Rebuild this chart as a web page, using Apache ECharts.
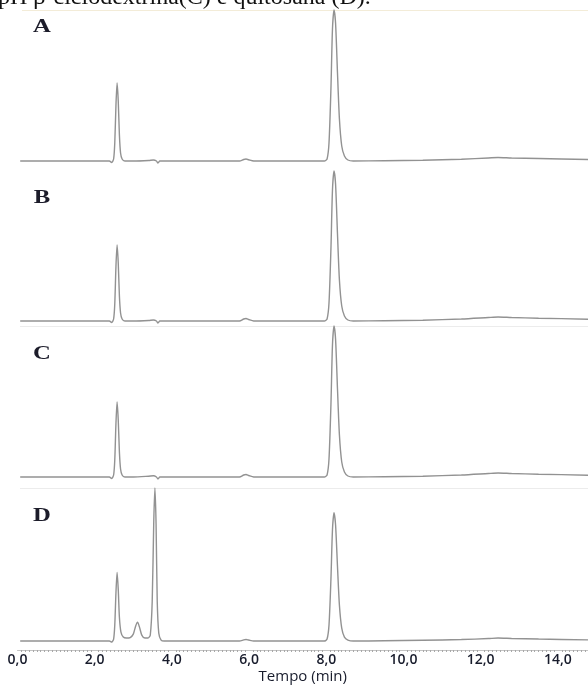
<!DOCTYPE html>
<html>
<head>
<meta charset="utf-8">
<script src="https://cdn.jsdelivr.net/npm/echarts@6/dist/echarts.min.js"></script>
<style>
  html, body { margin: 0; padding: 0; background: #fff; }
  #chart { width: 588px; height: 685px; }
</style>
</head>
<body>
<div id="chart"></div>
<script>
// Chromatogram traces: [retention time (min), detector signal]
const traceA = [[0.07,0],[1.0,0],[2.0,0],[2.38,0],[2.44,-1.5],[2.49,2],[2.52,18],[2.55,55],[2.58,78],[2.61,60],[2.64,26],[2.67,8],[2.71,2],[2.78,0],[3.0,0],[3.4,0.5],[3.52,1],[3.6,0],[3.64,-2],[3.69,0],[4.2,0],[5.0,0],[5.75,0],[5.86,1.5],[5.92,2],[5.99,1.2],[6.12,0],[7.0,0],[7.95,0],[8.02,2],[8.07,18],[8.12,72],[8.16,132],[8.2,151],[8.24,138],[8.29,88],[8.34,42],[8.4,15],[8.47,5],[8.56,1],[8.7,0],[9.5,0.3],[10.5,0.8],[11.5,1.8],[12.2,3],[12.45,3.5],[12.8,3],[13.5,2.5],[14.78,1.5]];
const traceB = [[0.07,0],[1.0,0],[2.0,0],[2.38,0],[2.44,-1.5],[2.49,2],[2.52,17],[2.55,54],[2.58,76],[2.61,58],[2.64,25],[2.67,8],[2.71,2],[2.78,0],[3.0,0],[3.4,0.5],[3.52,1],[3.6,0],[3.64,-2],[3.69,0],[4.2,0],[5.0,0],[5.75,0],[5.86,2],[5.92,2.5],[5.99,1.5],[6.12,0],[7.0,0],[7.95,0],[8.02,2],[8.07,18],[8.12,72],[8.16,131],[8.2,150],[8.24,137],[8.29,87],[8.34,41],[8.4,15],[8.47,5],[8.56,1],[8.7,0],[9.5,0.3],[10.5,0.8],[11.5,2],[12.2,3.5],[12.45,4],[12.8,3.5],[13.5,2.8],[14.78,1.8]];
const traceC = [[0.07,0],[1.0,0],[2.0,0],[2.38,0],[2.44,-1.5],[2.49,2],[2.52,17],[2.55,53],[2.58,75],[2.61,57],[2.64,25],[2.67,8],[2.71,2],[2.78,0],[3.0,0],[3.4,0.8],[3.52,1.2],[3.6,0],[3.64,-2],[3.69,0],[4.2,0],[5.0,0],[5.75,0],[5.86,2],[5.92,2.5],[5.99,1.5],[6.12,0],[7.0,0],[7.95,0],[8.02,2],[8.07,18],[8.12,72],[8.16,132],[8.2,151],[8.24,138],[8.29,88],[8.34,42],[8.4,15],[8.47,5],[8.56,1],[8.7,0],[9.5,0.3],[10.5,0.8],[11.5,2],[12.2,3.5],[12.45,4],[12.8,3.5],[13.5,2.8],[14.78,1.8]];
const traceD = [[0.07,0],[1.0,0],[2.0,0],[2.38,0],[2.44,-1],[2.49,2],[2.52,16],[2.55,48],[2.58,69],[2.61,52],[2.64,24],[2.68,9],[2.74,4],[2.82,3],[2.92,3.5],[3.0,7],[3.06,15],[3.11,19],[3.16,14],[3.22,6],[3.3,3],[3.38,3],[3.44,6],[3.49,40],[3.53,120],[3.56,154],[3.59,118],[3.62,40],[3.66,8],[3.72,1],[3.8,0],[4.2,0],[5.0,0],[5.75,0],[5.86,1.2],[5.92,1.6],[5.99,1],[6.12,0],[7.0,0],[7.95,0],[8.02,2],[8.07,16],[8.12,62],[8.16,112],[8.2,129],[8.24,117],[8.29,75],[8.34,36],[8.4,13],[8.47,4],[8.56,1],[8.7,0],[9.5,0.3],[10.5,0.8],[11.5,1.5],[12.2,2.5],[12.45,3],[12.8,2.6],[13.5,2],[14.78,1.2]];
const panelNames = ['A', 'B', 'C', 'D'];
const xTickStep = 2;
const xTitle = 'Tempo (min)';
const caption = 'pH β-ciclodextrina(C) e quitosana (D).';

const traces = [traceA, traceB, traceC, traceD];
// one strip per sample: [top, bottom, yMin, yMax] in pixels / signal units (1 unit = 1px)
const strips = [[6, 166, -5, 155], [166, 326, -5, 155], [322, 488, -11, 155], [482, 651, -9, 160]];
const labelY = [27, 198, 354, 516];

const chart = echarts.init(document.getElementById('chart'), null, { renderer: 'canvas' });

const grids = strips.map(s => ({ left: 17.5, right: 0, top: s[0], height: s[1] - s[0], containLabel: false }));
const xAxes = strips.map((s, i) => {
  const last = i === strips.length - 1;
  return {
    type: 'value', gridIndex: i, min: 0, max: 14.78, interval: xTickStep,
    axisLine: { show: last, onZero: false, lineStyle: { color: '#c4c4c4', width: 1 } },
    axisTick: { show: false },
    minorTick: { show: last, splitNumber: 20, length: 2, lineStyle: { color: '#a8a8a8' } },
    splitLine: { show: false },
    axisLabel: {
      show: last, showMaxLabel: false, margin: 3,
      fontFamily: 'Open Sans', fontSize: 14, fontWeight: 600, color: '#181c2c',
      formatter: v => v.toFixed(1).replace('.', ',')
    },
    name: last ? xTitle : '', nameLocation: 'middle', nameGap: 19,
    nameTextStyle: { fontFamily: 'Open Sans', fontSize: 15, color: '#181c2c' }
  };
});
const yAxes = strips.map((s, i) => ({
  type: 'value', gridIndex: i, min: s[2], max: s[3], show: false
}));
const series = traces.map((t, i) => ({
  type: 'line', xAxisIndex: i, yAxisIndex: i, data: t,
  showSymbol: false, smooth: 0.25, clip: false,
  lineStyle: { color: '#929292', width: 1.4 }
}));

const graphic = [
  { type: 'text', left: -2, top: -14, style: { text: caption, font: '24px "Liberation Serif"', fill: '#111' } },
  { type: 'line', shape: { x1: 22, y1: 10.5, x2: 588, y2: 10.5 }, style: { stroke: '#f3ecd8', lineWidth: 1 } },
  { type: 'line', shape: { x1: 20, y1: 326.5, x2: 588, y2: 326.5 }, style: { stroke: '#ececec', lineWidth: 1 } },
  { type: 'line', shape: { x1: 20, y1: 488.5, x2: 588, y2: 488.5 }, style: { stroke: '#ececec', lineWidth: 1 } }
];
panelNames.forEach((n, i) => {
  graphic.push({
    type: 'text', x: 42, y: labelY[i], scaleX: 1.3,
    style: {
      text: n, font: 'bold 19px "Liberation Serif"', fill: '#1c1c2a',
      textAlign: 'center', textVerticalAlign: 'middle',
      shadowColor: 'rgba(0,0,0,0.35)', shadowBlur: 6
    }
  });
});

chart.setOption({
  animation: false,
  grid: grids, xAxis: xAxes, yAxis: yAxes, series: series, graphic: graphic
});
</script>
</body>
</html>
